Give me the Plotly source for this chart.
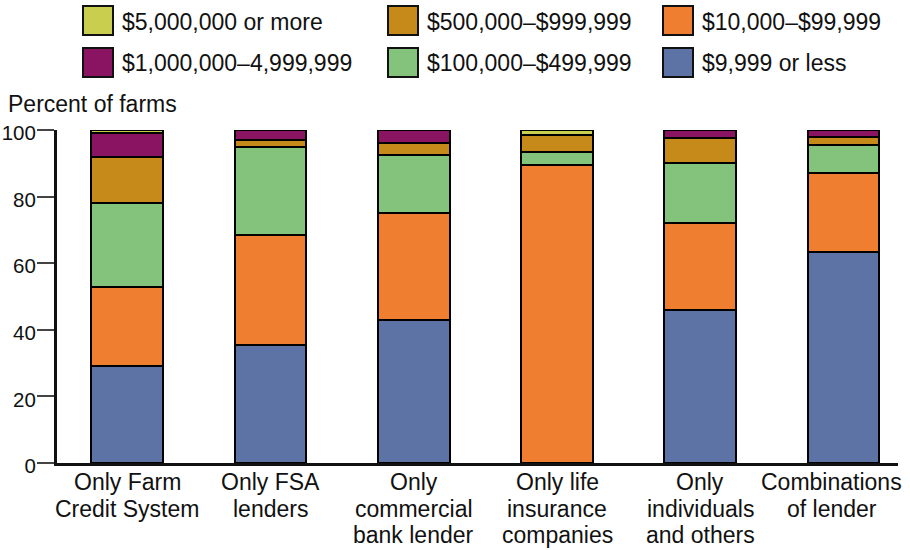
import plotly.graph_objects as go

# Lender groups along the x axis (one list entry per text line)
categories = [
    ["Only Farm", "Credit System"],
    ["Only FSA", "lenders"],
    ["Only", "commercial", "bank lender"],
    ["Only life", "insurance", "companies"],
    ["Only", "individuals", "and others"],
    ["Combinations", "of lender"],
]

# Percent of farms in each gross-sales class (stacked bottom to top)
sales_9999_or_less = [29, 35.5, 43, 0, 46, 63.5]
sales_10k_99k = [24, 33, 32, 89.5, 26, 23.5]
sales_100k_499k = [25, 26.5, 17.5, 4, 18, 8.5]
sales_500k_999k = [14, 2, 3.5, 5, 7.5, 2.5]
sales_1m_4_9m = [7, 3, 4, 0, 2.5, 2]
sales_5m_or_more = [1, 0, 0, 1.5, 0, 0]

series_names = [
    "$9,999 or less",
    "$10,000–$99,999",
    "$100,000–$499,999",
    "$500,000–$999,999",
    "$1,000,000–4,999,999",
    "$5,000,000 or more",
]
series_values = [
    sales_9999_or_less,
    sales_10k_99k,
    sales_100k_499k,
    sales_500k_999k,
    sales_1m_4_9m,
    sales_5m_or_more,
]
series_colors = ["#5E73A5", "#F07E30", "#84C37C", "#C68A1A", "#8B1462", "#C9CE4E"]

y_ticks = [0, 20, 40, 60, 80, 100]

FONT = "Liberation Sans, Arial, Helvetica, sans-serif"
TEXT = "#111111"
W, H = 910, 550
M_L, M_R, M_T, M_B = 57, 12, 130, 87
PLOT_W = W - M_L - M_R
PLOT_H = H - M_T - M_B


def px_x(x):
    return (x - M_L) / PLOT_W


def px_y(y):
    return (H - M_B - y) / PLOT_H


x_pos = list(range(len(categories)))

fig = go.Figure()
for name, vals, color in zip(series_names, series_values, series_colors):
    fig.add_trace(
        go.Bar(
            x=x_pos,
            y=vals,
            name=name,
            width=0.5,
            marker=dict(color=color, line=dict(color="#000000", width=2)),
            cliponaxis=False,
            showlegend=False,
            hoverinfo="name+y",
        )
    )

shapes = []
annotations = []

# Legend drawn as swatches + labels in a 3 x 2 grid
legend_order = [
    "$5,000,000 or more",
    "$500,000–$999,999",
    "$10,000–$99,999",
    "$1,000,000–4,999,999",
    "$100,000–$499,999",
    "$9,999 or less",
]
col_x = [83, 388, 663]
row_y = [6, 48]
sw_w, sw_h = 30, 29
for i, name in enumerate(legend_order):
    r, c = divmod(i, 3)
    color = series_colors[series_names.index(name)]
    x0, y0 = col_x[c], row_y[r]
    shapes.append(
        dict(
            type="rect",
            xref="paper",
            yref="paper",
            x0=px_x(x0),
            x1=px_x(x0 + sw_w),
            y0=px_y(y0 + sw_h),
            y1=px_y(y0),
            fillcolor=color,
            line=dict(color=TEXT, width=2),
            layer="above",
        )
    )
    annotations.append(
        dict(
            xref="paper",
            yref="paper",
            x=px_x(x0 + sw_w + 7),
            y=px_y(y0 + sw_h / 2 + 1),
            text=name,
            showarrow=False,
            xanchor="left",
            yanchor="middle",
            font=dict(family=FONT, size=23, color=TEXT),
        )
    )

# Category labels under each bar, with tighter line spacing;
# the last one is nudged left so it stays inside the page
line_centers = [482, 508.5, 535]
label_xshift = [0, 0, 0, 0, 0, -12]
for xi, lines, dx in zip(x_pos, categories, label_xshift):
    for k, line in enumerate(lines):
        annotations.append(
            dict(
                xref="x",
                yref="paper",
                x=xi,
                y=px_y(line_centers[k]),
                xshift=dx,
                text=line,
                showarrow=False,
                xanchor="center",
                yanchor="middle",
                font=dict(family=FONT, size=23, color=TEXT),
            )
        )

annotations.append(
    dict(
        xref="paper",
        yref="paper",
        x=px_x(6),
        y=px_y(104),
        text="Percent of farms",
        showarrow=False,
        xanchor="left",
        yanchor="middle",
        font=dict(family=FONT, size=23, color=TEXT),
    )
)

fig.update_layout(
    width=W,
    height=H,
    autosize=False,
    margin=dict(l=M_L, r=M_R, t=M_T, b=M_B, autoexpand=False),
    barmode="stack",
    plot_bgcolor="white",
    paper_bgcolor="white",
    font=dict(family=FONT, size=22, color=TEXT),
    shapes=shapes,
    annotations=annotations,
    showlegend=False,
)
fig.update_xaxes(
    range=[-0.49, 5.38],
    tickvals=x_pos,
    showticklabels=False,
    showline=True,
    linecolor=TEXT,
    linewidth=3,
    ticks="",
    showgrid=False,
    zeroline=False,
    automargin=False,
)
fig.update_yaxes(
    range=[0, 100],
    tickvals=y_ticks,
    showline=True,
    linecolor=TEXT,
    linewidth=3,
    ticks="outside",
    ticklen=17,
    tickwidth=2,
    tickcolor="#444444",
    ticklabelstandoff=-3,
    ticklabelshift=3,
    showgrid=False,
    zeroline=False,
    automargin=False,
    ticklabeloverflow="allow",
    tickfont=dict(family=FONT, size=20.5, color=TEXT),
)

fig.write_html("out.html")
